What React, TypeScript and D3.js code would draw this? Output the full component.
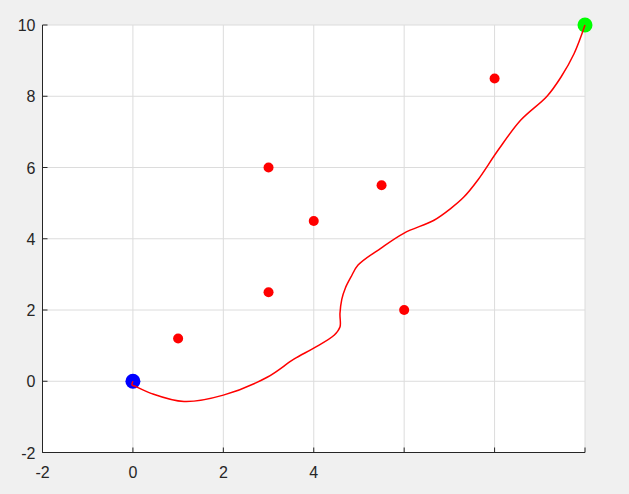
import React from "react";
import * as d3 from "d3";

const xTicks = [-2, 0, 2, 4, 6, 8, 10];
const xTickLabels = ["-2", "0", "2", "4", "", "", ""];
const yTicks = [-2, 0, 2, 4, 6, 8, 10];
const obstacleX = [1, 3, 3, 4, 5.5, 6, 8];
const obstacleY = [1.2, 2.5, 6, 4.5, 5.5, 2, 8.5];
const startPt = [0, 0];
const goalPt = [10, 10];
const pathX = [0, -0.02, 0.05, 0.4, 1.13, 2.0, 2.98, 3.56, 4.0, 4.45, 4.58, 4.58, 4.62, 4.7, 4.82, 4.98, 5.49, 6.0, 6.66, 7.04, 7.32, 7.63, 8.08, 8.58, 9.16, 9.47, 9.76, 10];
const pathY = [0, -0.1, -0.14, -0.34, -0.57, -0.39, 0.12, 0.62, 0.93, 1.29, 1.52, 1.9, 2.3, 2.62, 2.92, 3.26, 3.74, 4.16, 4.52, 4.86, 5.17, 5.65, 6.49, 7.33, 8.0, 8.54, 9.2, 10];

export default function App() {
  const W = 629, H = 494;
  const x = d3.scaleLinear().domain([-2, 10]).range([42.5, 585]);
  const y = d3.scaleLinear().domain([-2, 10]).range([452.5, 25]);
  const pts: [number, number][] = pathX.map((v, i) => [v, pathY[i]]);
  const line = d3.line<[number, number]>().x(d => x(d[0])).y(d => y(d[1])).curve(d3.curveCatmullRom.alpha(0.5));
  const font = "'Liberation Sans', Arial, Helvetica, sans-serif";
  return (
    <svg width={W} height={H} style={{ position: "fixed", left: 0, top: 0, background: "#f0f0f0" }}>
      <rect x={0} y={0} width={W} height={H} fill="#f0f0f0" />
      <rect x={x(-2)} y={y(10)} width={x(10) - x(-2)} height={y(-2) - y(10)} fill="#ffffff" />
      {xTicks.map(t => (
        <line key={"gx" + t} x1={x(t)} x2={x(t)} y1={y(-2)} y2={y(10)} stroke="#dcdcdc" strokeWidth={1} />
      ))}
      {yTicks.map(t => (
        <line key={"gy" + t} x1={x(-2)} x2={x(10)} y1={y(t)} y2={y(t)} stroke="#dcdcdc" strokeWidth={1} />
      ))}
      <line x1={x(-2)} x2={x(10)} y1={y(-2)} y2={y(-2)} stroke="#262626" strokeWidth={1} />
      <line x1={x(-2)} x2={x(-2)} y1={y(-2)} y2={y(10)} stroke="#262626" strokeWidth={1} />
      {xTicks.map(t => (
        <line key={"tx" + t} x1={x(t)} x2={x(t)} y1={y(-2)} y2={y(-2) - 5} stroke="#262626" strokeWidth={1} />
      ))}
      {yTicks.map(t => (
        <line key={"ty" + t} x1={x(-2)} x2={x(-2) + 5} y1={y(t)} y2={y(t)} stroke="#262626" strokeWidth={1} />
      ))}
      {xTicks.map((t, i) => (
        <text key={"lx" + t} x={x(t)} y={y(-2) + 25} textAnchor="middle" fontFamily={font} fontSize={16} fill="#262626">{xTickLabels[i]}</text>
      ))}
      {yTicks.map(t => (
        <text key={"ly" + t} x={x(-2) - 7} y={y(t) + 6} textAnchor="end" fontFamily={font} fontSize={16} fill="#262626">{String(t)}</text>
      ))}
      {obstacleX.map((v, i) => (
        <circle key={"o" + i} cx={x(v)} cy={y(obstacleY[i])} r={5} fill="#ff0000" />
      ))}
      <circle cx={x(startPt[0])} cy={y(startPt[1])} r={7.5} fill="#0000ff" />
      <circle cx={x(goalPt[0])} cy={y(goalPt[1])} r={7.5} fill="#00ff00" />
      <path d={line(pts) || ""} fill="none" stroke="#ff0000" strokeWidth={1.5} />
    </svg>
  );
}
